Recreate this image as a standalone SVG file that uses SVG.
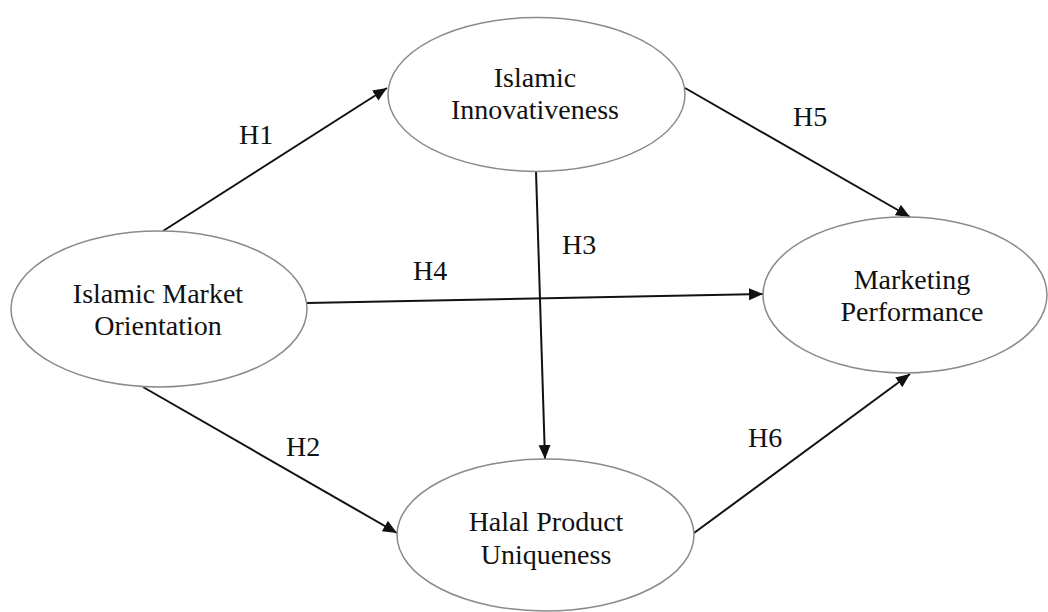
<svg xmlns="http://www.w3.org/2000/svg" width="1048" height="612" viewBox="0 0 1048 612">
  <style>
    .node ellipse { fill: #ffffff; stroke: #8a8a8a; stroke-width: 1.5; }
    .node text { font-size: 28px; fill: #111111; text-anchor: middle; }
    .edge line { stroke: #111111; stroke-width: 2; marker-end: url(#arrow); }
    .label { font-size: 28px; fill: #111111; }
  </style>
  <defs>
    <marker id="arrow" markerUnits="userSpaceOnUse" markerWidth="16" markerHeight="14" refX="14" refY="6" orient="auto">
      <path d="M0,0 L14,6 L0,12 z" fill="#111111"/>
    </marker>
  </defs>
  <rect width="1048" height="612" fill="#ffffff"/>

  <!-- connectors -->
  <g id="connectors" class="edge">
    <line id="h1" x1="163" y1="231" x2="387" y2="88"/>
    <line id="h2" x1="143" y1="387" x2="397" y2="533"/>
    <line id="h3" x1="536" y1="171" x2="545" y2="459"/>
    <line id="h4" x1="307" y1="303" x2="763" y2="294"/>
    <line id="h5" x1="685" y1="88" x2="910" y2="217"/>
    <line id="h6" x1="694" y1="533" x2="910" y2="374"/>
  </g>

  <!-- all text set in a Times-metric serif -->
  <g font-family="'Liberation Serif', 'DejaVu Serif', 'Times New Roman', serif">
    <!-- hypothesis labels -->
    <g id="labels" class="label">
      <text x="239" y="144">H1</text>
      <text x="286" y="456">H2</text>
      <text x="562" y="254">H3</text>
      <text x="413" y="280">H4</text>
      <text x="793" y="126">H5</text>
      <text x="748" y="447">H6</text>
    </g>

    <!-- constructs -->
    <g id="islamic-innovativeness" class="node">
      <ellipse cx="536.5" cy="94.5" rx="148.5" ry="77"/>
      <text x="535" y="87">Islamic</text>
      <text x="535" y="119">Innovativeness</text>
    </g>
    <g id="islamic-market-orientation" class="node">
      <ellipse cx="159" cy="309" rx="148" ry="78"/>
      <text x="158" y="303">Islamic Market</text>
      <text x="158" y="335">Orientation</text>
    </g>
    <g id="marketing-performance" class="node">
      <ellipse cx="905" cy="295" rx="142" ry="78"/>
      <text x="912" y="289">Marketing</text>
      <text x="912" y="321">Performance</text>
    </g>
    <g id="halal-product-uniqueness" class="node">
      <ellipse cx="545.5" cy="535" rx="148.5" ry="76"/>
      <text x="546" y="531">Halal Product</text>
      <text x="546" y="564">Uniqueness</text>
    </g>
  </g>
</svg>
